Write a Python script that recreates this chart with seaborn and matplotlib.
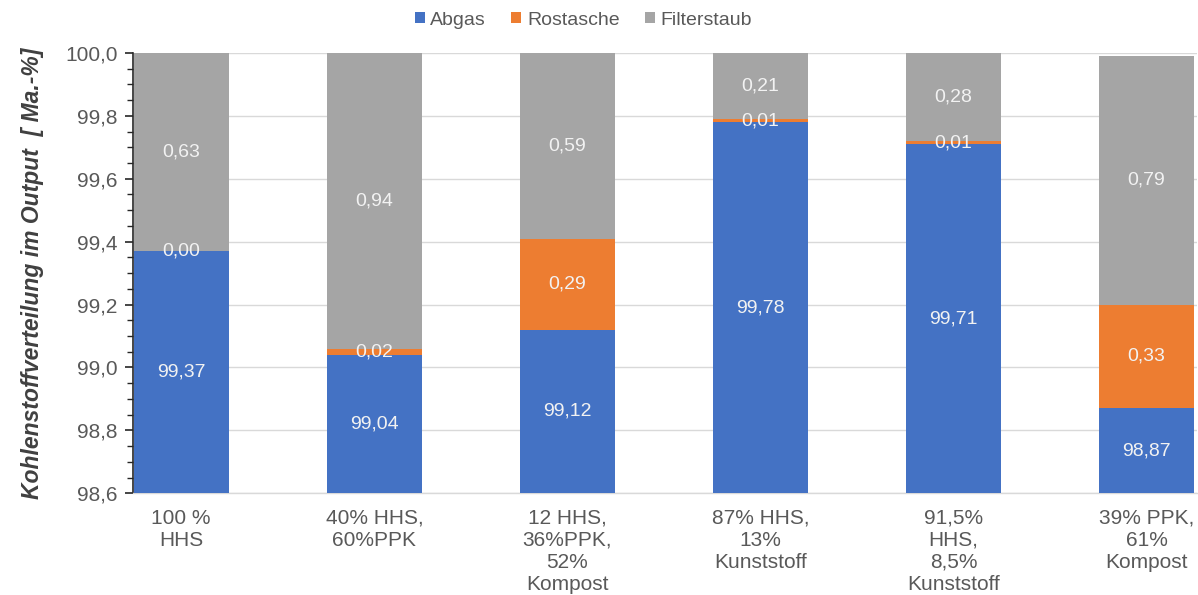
import numpy as np
import pandas as pd
import matplotlib
matplotlib.use("Agg")
import matplotlib.pyplot as plt
from matplotlib.patches import Patch
from matplotlib.ticker import MultipleLocator, FuncFormatter
import seaborn as sns

# Mixtures (x axis) and carbon distribution in output [Ma.-%]
categories = [
    "100 %\nHHS",
    "40% HHS,\n60%PPK",
    "12 HHS,\n36%PPK,\n52%\nKompost",
    "87% HHS,\n13%\nKunststoff",
    "91,5%\nHHS,\n8,5%\nKunststoff",
    "39% PPK,\n61%\nKompost",
]
abgas = [99.37, 99.04, 99.12, 99.78, 99.71, 98.87]
rostasche = [0.00, 0.02, 0.29, 0.01, 0.01, 0.33]
filterstaub = [0.63, 0.94, 0.59, 0.21, 0.28, 0.79]
series_names = ["Abgas", "Rostasche", "Filterstaub"]
colors = ["#4472C4", "#ED7D31", "#A5A5A5"]

YMIN, YMAX = 98.6, 100.0

sns.set_theme(style="white")
plt.rcParams["font.family"] = ["Liberation Sans", "DejaVu Sans"]

fig = plt.figure(figsize=(11.98, 5.95), dpi=100)
ax = fig.add_axes([0.111, 0.171, 0.888, 0.740])

df = pd.DataFrame({"cat": categories, "Abgas": abgas,
                   "Rostasche": rostasche, "Filterstaub": filterstaub})
df["c1"] = df["Abgas"]
df["c2"] = df["Abgas"] + df["Rostasche"]
df["c3"] = df["c2"] + df["Filterstaub"]

# Stacked bars: draw cumulative totals from the top layer down
for col, color in zip(["c3", "c2", "c1"], colors[::-1]):
    sns.barplot(data=df, x="cat", y=col, color=color, width=0.49,
                saturation=1, linewidth=0, ax=ax, zorder=3)

# Segment value labels, centred in the visible part of each segment
for i in range(len(categories)):
    lows = [YMIN, df["c1"][i], df["c2"][i]]
    highs = [df["c1"][i], df["c2"][i], df["c3"][i]]
    vals = [abgas[i], rostasche[i], filterstaub[i]]
    for lo, hi, v in zip(lows, highs, vals):
        yc = (max(lo, YMIN) + min(hi, YMAX)) / 2
        ax.text(i, yc, f"{v:.2f}".replace(".", ","), ha="center", va="center",
                color="#F2F2F2", fontsize=14, zorder=5)

ax.set_ylim(YMIN, YMAX)
ax.set_xlim(-0.25, 5.26)
ax.yaxis.set_major_locator(MultipleLocator(0.2))
ax.yaxis.set_minor_locator(MultipleLocator(0.05))
ax.yaxis.set_major_formatter(FuncFormatter(lambda v, p: f"{v:.1f}".replace(".", ",")))
ax.grid(axis="y", which="major", color="#D9D9D9", linewidth=1, zorder=0)
ax.set_axisbelow(True)

for s in ["top", "right"]:
    ax.spines[s].set_visible(False)
ax.spines["left"].set_color("#262626")
ax.spines["left"].set_linewidth(1.2)
ax.spines["bottom"].set_color("#D9D9D9")
ax.spines["bottom"].set_linewidth(1)

ax.tick_params(axis="y", which="major", direction="out", length=6, width=1.2,
               color="#262626", labelsize=15, labelcolor="#595959", pad=5, left=True)
ax.tick_params(axis="y", which="minor", direction="out", length=4, width=1,
               color="#262626", left=True)
ax.tick_params(axis="x", length=0, labelsize=15, labelcolor="#595959", pad=11)
for lab in ax.get_xticklabels():
    lab.set_linespacing(1.2)

ax.set_xlabel("")
ax.set_ylabel("Kohlenstoffverteilung im Output  [ Ma.-%]", fontsize=16.5,
              fontweight="bold", fontstyle="italic", color="#404040", labelpad=15)

handles = [Patch(facecolor=c, edgecolor="none", label=n) for n, c in zip(series_names, colors)]
fig.legend(handles=handles, loc="center", bbox_to_anchor=(0.487, 0.966), ncol=3,
           frameon=False, fontsize=14, handlelength=0.5, handleheight=0.5,
           handletextpad=0.3, columnspacing=1.3, labelcolor="#595959")

fig.savefig("out.png", dpi=100)
